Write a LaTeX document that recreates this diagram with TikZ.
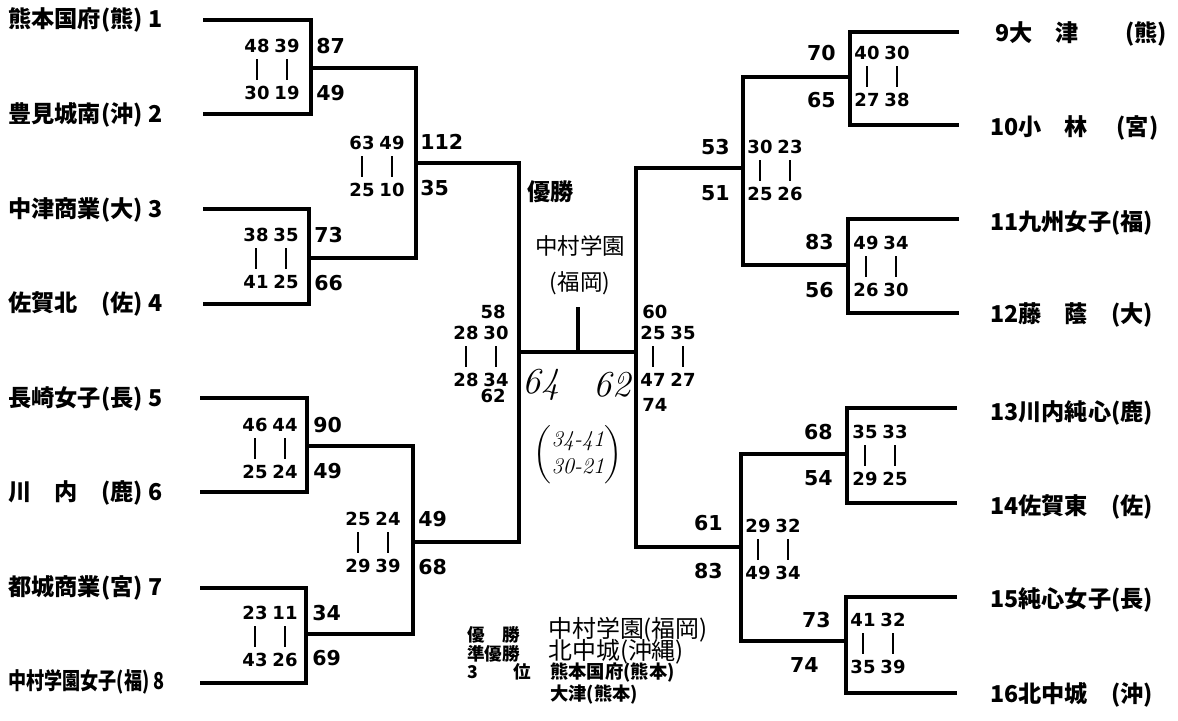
\documentclass[tikz,border=0pt]{standalone}
\usepackage{fontspec}
\usepackage{amsmath}
\usetikzlibrary{positioning}
\newfontfamily\jp{Noto Sans CJK JP}
\newfontfamily\numf{DejaVu Sans}
\newcommand{\halfscores}[7]{%
  \node[half] (#1a) at (#2,#3) {#4};
  \node[half] (#1b) at (#2+30,#3) {#5};
  \node[half] (#1c) at (#2,#3+47) {#6};
  \node[half] (#1d) at (#2+30,#3+47) {#7};
  \draw[bar] (#1a) -- (#1c);
  \draw[bar] (#1b) -- (#1d);
}

\begin{document}
\begin{tikzpicture}[x=0.025cm,y=-0.025cm,
  bracket/.style={line width=2.5pt},
  bar/.style={line width=1.8pt,shorten >=0.16cm,shorten <=0.16cm},
  team/.style={anchor=west,inner sep=0,font=\jp\bfseries\fontsize{16.5}{19}\selectfont},
  half/.style={inner sep=0,font=\numf\bfseries\fontsize{12.8}{14}\selectfont},
  total/.style={inner sep=0,font=\numf\bfseries\fontsize{14.6}{16}\selectfont},
  hand/.style={inner sep=0,font=\jp\fontsize{16}{25.6}\selectfont},
  final/.style={inner sep=0,font=\itshape\fontsize{26}{28}\selectfont},
  legend/.style={anchor=west,inner sep=0,font=\jp\bfseries\fontsize{12.5}{14}\selectfont},
  legendhand/.style={anchor=west,inner sep=0,font=\jp\fontsize{17}{20}\selectfont},
  legendthird/.style={anchor=west,inner sep=0,font=\jp\bfseries\fontsize{13}{15}\selectfont}]
\useasboundingbox (0,0) rectangle (1178,721);

\coordinate (t1) at (203,20);
\coordinate (t2) at (203,114);
\coordinate (t3) at (203,209);
\coordinate (t4) at (203,304);
\coordinate (t5) at (200,398);
\coordinate (t6) at (200,492);
\coordinate (t7) at (200,588);
\coordinate (t8) at (200,683);
\coordinate (m1) at (311,68);
\coordinate (m2) at (309,258);
\coordinate (m3) at (307,446);
\coordinate (m4) at (306,634);
\coordinate (s1) at (416,163);
\coordinate (s2) at (413,542);
\coordinate (fL) at (519,352);

\coordinate (t9) at (959,32);
\coordinate (t10) at (959,125);
\coordinate (t11) at (959,219);
\coordinate (t12) at (959,313);
\coordinate (t13) at (957,408);
\coordinate (t14) at (957,503);
\coordinate (t15) at (957,597);
\coordinate (t16) at (957,693);
\coordinate (m5) at (850,77);
\coordinate (m6) at (848,265);
\coordinate (m7) at (847,454);
\coordinate (m8) at (846,641);
\coordinate (s3) at (743,168);
\coordinate (s4) at (741,547);
\coordinate (fR) at (636,352);
\coordinate (fC) at (578,352);
\coordinate (champ) at (578,307);

\draw[bracket] (t1) -| (m1) |- (t2);
\draw[bracket] (t3) -| (m2) |- (t4);
\draw[bracket] (t5) -| (m3) |- (t6);
\draw[bracket] (t7) -| (m4) |- (t8);
\draw[bracket] (m1) -| (s1) |- (m2);
\draw[bracket] (m3) -| (s2) |- (m4);
\draw[bracket] (s1) -| (fL) |- (s2);
\draw[bracket] (t9) -| (m5) |- (t10);
\draw[bracket] (t11) -| (m6) |- (t12);
\draw[bracket] (t13) -| (m7) |- (t14);
\draw[bracket] (t15) -| (m8) |- (t16);
\draw[bracket] (m5) -| (s3) |- (m6);
\draw[bracket] (m7) -| (s4) |- (m8);
\draw[bracket] (s3) -| (fR) |- (s4);
\draw[bracket] (fL) -- (fR);
\draw[bracket] (fC) -- (champ);

\node[team] (n1) at (8,20) {熊本国府(熊) 1};
\node[team] (n2) at (8,115) {豊見城南(沖) 2};
\node[team] (n3) at (8,210) {中津商業(大) 3};
\node[team] (n4) at (8,304) {佐賀北　(佐) 4};
\node[team] (n5) at (8,399) {長崎女子(長) 5};
\node[team] (n6) at (8,493) {川　内　(鹿) 6};
\node[team] (n7) at (8,588) {都城商業(宮) 7};
\node[team] (n8) at (8,682) {\scalebox{0.78}[1]{中村学園女子(福) 8}};
\node[team] (n9) at (995,34) {9大　津　　(熊)};
\node[team] (n10) at (990,128) {10小　林　 (宮)};
\node[team] (n11) at (990,223) {11九州女子(福)};
\node[team] (n12) at (990,315) {12藤　蔭　(大)};
\node[team] (n13) at (990,413) {13川内純心(鹿)};
\node[team] (n14) at (990,507) {14佐賀東　(佐)};
\node[team] (n15) at (990,600) {15純心女子(長)};
\node[team] (n16) at (990,695) {16北中城　(沖)};

\halfscores{h1}{257}{46}{48}{39}{30}{19}
\halfscores{h2}{256}{235}{38}{35}{41}{25}
\halfscores{h3}{255}{425}{46}{44}{25}{24}
\halfscores{h4}{255}{613}{23}{11}{43}{26}
\halfscores{h5}{362}{143}{63}{49}{25}{10}
\halfscores{h6}{358}{519}{25}{24}{29}{39}
\halfscores{hs1}{466}{333}{28}{30}{28}{34}
\halfscores{hs2}{653}{333}{25}{35}{47}{27}
\halfscores{h9}{867}{53}{40}{30}{27}{38}
\halfscores{h10}{866}{243}{49}{34}{26}{30}
\halfscores{h11}{865}{432}{35}{33}{29}{25}
\halfscores{h12}{863}{620}{41}{32}{35}{39}
\halfscores{h13}{760}{147}{30}{23}{25}{26}
\halfscores{h14}{758}{526}{29}{32}{49}{34}

\node[total,anchor=west] (g1a) at (316,46) {87};
\node[total,anchor=west] (g1b) at (316,93) {49};
\node[total,anchor=west] (g2a) at (314,235) {73};
\node[total,anchor=west] (g2b) at (314,283) {66};
\node[total,anchor=west] (g3a) at (313,425) {90};
\node[total,anchor=west] (g3b) at (313,471) {49};
\node[total,anchor=west] (g4a) at (312,613) {34};
\node[total,anchor=west] (g4b) at (312,658) {69};
\node[total,anchor=west] (g5a) at (420,142) {112};
\node[total,anchor=west] (g5b) at (420,188) {35};
\node[total,anchor=west] (g6a) at (418,519) {49};
\node[total,anchor=west] (g6b) at (418,567) {68};
\node[half,anchor=east] (gs1a) at (506,312) {58};
\node[half,anchor=east] (gs1b) at (506,396) {62};
\node[half,anchor=west] (gs2a) at (642,312) {60};
\node[half,anchor=west] (gs2b) at (642,405) {74};
\node[total,anchor=east] (g9a) at (836,53) {70};
\node[total,anchor=east] (g9b) at (836,100) {65};
\node[total,anchor=east] (g10a) at (834,242) {83};
\node[total,anchor=east] (g10b) at (834,290) {56};
\node[total,anchor=east] (g11a) at (833,432) {68};
\node[total,anchor=east] (g11b) at (833,478) {54};
\node[total,anchor=east] (g12a) at (831,620) {73};
\node[total,anchor=east] (g12b) at (819,665) {74};
\node[total,anchor=east] (g13a) at (730,147) {53};
\node[total,anchor=east] (g13b) at (730,193) {51};
\node[total,anchor=east] (g14a) at (723,523) {61};
\node[total,anchor=east] (g14b) at (723,571) {83};

\node[team] (yusho) at (527,192) {優勝};
\node[hand,align=center] (win) at (580,265) {中村学園\\(福岡)};
\node[final] (fsl) at (541,385) {64};
\node[final] (fsr) at (612,385) {62};
\node[inner sep=0,font=\itshape\fontsize{16}{19}\selectfont] (fhalves) at (578,455)
  {$\left(\begin{array}{@{}c@{}}\textit{34-41}\\\textit{30-21}\end{array}\right)$};

\node[legend] (k1) at (467,635) {優　勝};
\node[legend] (k2) at (467,654) {準優勝};
\node[legend] (k3) at (467,672) {3　　位};
\node[legendhand] (r1) at (548,630) {中村学園(福岡)};
\node[legendhand] (r2) at (548,652) {北中城(沖縄)};
\node[legendthird] (r3) at (550,673) {熊本国府(熊本)};
\node[legendthird] (r4) at (550,695) {大津(熊本)};
\end{tikzpicture}
\end{document}
